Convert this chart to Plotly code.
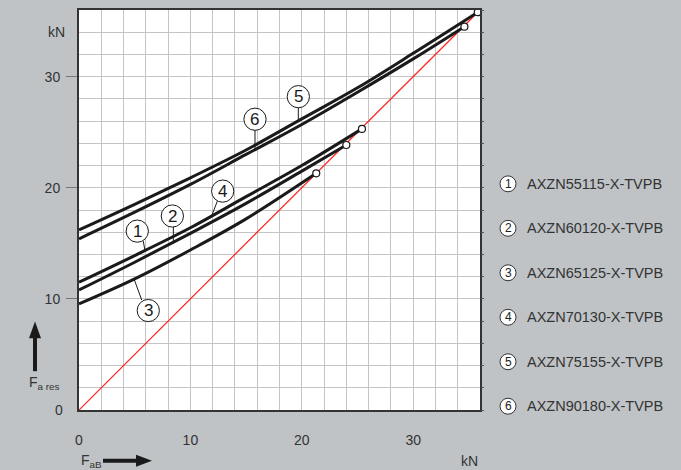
import plotly.graph_objects as go

# ---- data (kN) ----
fab_1 = [0, 5, 10, 15, 20, 25.4]          # curve 1 (= curve 4)
fres_1 = [11.5, 13.9, 16.4, 19.2, 22.0, 25.3]
fab_2 = [0, 5, 10, 15, 20, 24.0]
fres_2 = [10.8, 13.3, 15.9, 18.6, 21.5, 23.85]
fab_3 = [0, 5, 10, 15, 21.3]
fres_3 = [9.55, 11.8, 14.4, 17.2, 21.3]
fab_5 = [0, 5, 10, 15, 20, 25, 30, 35.8]
fres_5 = [16.2, 18.5, 20.9, 23.4, 26.2, 29.0, 32.1, 35.8]
fab_6 = [0, 5, 10, 15, 20, 25, 30, 34.6]
fres_6 = [15.4, 17.8, 20.3, 23.0, 25.7, 28.6, 31.6, 34.5]
ref_x = [0, 35.8]
ref_y = [0, 35.8]
legend_names = ["AXZN55115-X-TVPB", "AXZN60120-X-TVPB", "AXZN65125-X-TVPB",
                "AXZN70130-X-TVPB", "AXZN75155-X-TVPB", "AXZN90180-X-TVPB"]
tick_vals = [10, 20, 30]

W, H = 681, 470
L, R, T, B = 79, 480, 8, 410


def px(x):
    return (x - L) / (R - L)


def py(y):
    return (B - y) / (B - T)


FONT = "Liberation Sans, Arial, sans-serif"
TXT = "#333333"

fig = go.Figure()
fig.add_trace(go.Scatter(x=ref_x, y=ref_y, mode="lines",
                         line=dict(color="#ff2020", width=1.2), hoverinfo="skip"))
curves = [(fab_5, fres_5), (fab_6, fres_6), (fab_1, fres_1), (fab_2, fres_2), (fab_3, fres_3)]
for cx, cy in curves:
    fig.add_trace(go.Scatter(x=cx, y=cy, mode="lines",
                             line=dict(color="#1a1a1a", width=3, shape="spline"),
                             hoverinfo="skip"))
for cx, cy in curves:
    fig.add_trace(go.Scatter(x=[cx[-1]], y=[cy[-1]], mode="markers",
                             marker=dict(size=7, color="white",
                                         line=dict(color="#1a1a1a", width=1.2)),
                             hoverinfo="skip"))
# invisible trace for right-hand tick marks
fig.add_trace(go.Scatter(x=ref_x, y=ref_y, yaxis="y2", mode="lines",
                         line=dict(width=0), opacity=0, hoverinfo="skip"))

shapes = []
annotations = []


def ann(x, y, text, size, xanchor="center", ref="paper", color=TXT):
    return dict(x=x, y=y, xref=ref if ref == "paper" else "x", yref=ref if ref == "paper" else "y",
                text=text, showarrow=False, xanchor=xanchor, yanchor="middle",
                font=dict(family=FONT, size=size, color=color))


# curve labels: (number, circle centre, pointer start, pointer end) in data units
labels = [
    ("1", (5.23, 16.1), (5.77, 15.2), (5.92, 14.35)),
    ("2", (8.38, 17.46), (8.47, 16.6), (8.47, 15.1)),
    ("3", (6.22, 8.95), (5.63, 9.9), (4.94, 11.8)),
    ("4", (12.9, 19.7), (12.42, 18.8), (11.9, 17.45)),
    ("5", (19.69, 28.2), (19.69, 27.25), (19.69, 26.0)),
    ("6", (15.8, 26.17), (15.8, 25.2), (15.8, 23.4)),
]
r = 1.0
for num, (cx, cy), (sx, sy), (ex, ey) in labels:
    shapes.append(dict(type="line", xref="x", yref="y", x0=sx, y0=sy, x1=ex, y1=ey,
                       line=dict(color="#1a1a1a", width=1)))
    shapes.append(dict(type="circle", xref="x", yref="y", x0=cx - r, x1=cx + r,
                       y0=cy - r, y1=cy + r, fillcolor="white",
                       line=dict(color="#1a1a1a", width=1)))
    annotations.append(ann(cx, cy, num, 17, ref="data", color="#1a1a1a"))

# legend on the right
leg_y0, leg_dy = 182.7, 44.7
for i, name in enumerate(legend_names):
    yy = leg_y0 + i * leg_dy
    shapes.append(dict(type="circle", xref="paper", yref="paper",
                       x0=px(508 - 8), x1=px(508 + 8), y0=py(yy + 8), y1=py(yy - 8),
                       fillcolor="white", line=dict(color="#333333", width=1)))
    annotations.append(ann(px(508), py(yy), str(i + 1), 12, color="#222222"))
    annotations.append(ann(px(525), py(yy), name, 14.5, xanchor="left"))

# axis unit labels and zero
annotations += [
    ann(px(67), py(30), "kN", 14, xanchor="right"),
    ann(px(65), py(410), "0", 14, xanchor="right"),
    ann(px(480), py(461), "kN", 14, xanchor="right"),
    ann(px(27), py(383), "F<sub>a res</sub>", 14, xanchor="left"),
    ann(px(79), py(461), "F<sub>aB</sub>", 14, xanchor="left"),
]

# arrows
AC = "#1a1a1a"
shapes += [
    dict(type="line", xref="paper", yref="paper", x0=px(35), x1=px(35), y0=py(371), y1=py(336),
         line=dict(color=AC, width=4)),
    dict(type="path", xref="paper", yref="paper",
         path=f"M {px(29)} {py(338)} L {px(41)} {py(338)} L {px(35)} {py(321)} Z",
         fillcolor=AC, line=dict(color=AC, width=0)),
    dict(type="line", xref="paper", yref="paper", x0=px(103), x1=px(138), y0=py(461), y1=py(461),
         line=dict(color=AC, width=4)),
    dict(type="path", xref="paper", yref="paper",
         path=f"M {px(136)} {py(455)} L {px(136)} {py(467)} L {px(152)} {py(461)} Z",
         fillcolor=AC, line=dict(color=AC, width=0)),
]

grid = "#c4c4c4"
fig.update_layout(
    width=W, height=H,
    margin=dict(l=L, r=W - R, t=T, b=H - B, pad=0),
    paper_bgcolor="#bfc3c6",
    plot_bgcolor="white",
    showlegend=False,
    shapes=shapes,
    annotations=annotations,
    xaxis=dict(range=[0, 36], tickvals=[0, 10, 20, 30], ticks="outside", ticklen=16,
               tickcolor="rgba(0,0,0,0)", showgrid=True, gridcolor=grid, gridwidth=1,
               minor=dict(dtick=2, showgrid=True, gridcolor=grid, gridwidth=1),
               showline=True, linecolor="#333333", linewidth=2, mirror=True,
               zeroline=False, fixedrange=True,
               tickfont=dict(family=FONT, size=14, color=TXT)),
    yaxis=dict(range=[0, 36], tickvals=tick_vals, ticks="outside", ticklen=11,
               ticklabelstandoff=3,
               tickcolor="#777777", tickwidth=1, showgrid=True, gridcolor=grid, gridwidth=1,
               minor=dict(dtick=2, showgrid=True, gridcolor=grid, gridwidth=1),
               showline=True, linecolor="#333333", linewidth=2, mirror=True,
               zeroline=False, fixedrange=True,
               tickfont=dict(family=FONT, size=14, color=TXT)),
    yaxis2=dict(range=[0, 36], overlaying="y", side="right", tickvals=list(range(0, 37, 2)),
                ticks="outside", ticklen=3, tickcolor="#555555", showticklabels=False,
                showgrid=False, zeroline=False, showline=False, fixedrange=True),
)

fig.write_html("out.html", config={"displayModeBar": False},
               post_script="document.body.style.margin='0';document.body.style.overflow='hidden';"
                           "window.dispatchEvent(new Event('resize'));")
